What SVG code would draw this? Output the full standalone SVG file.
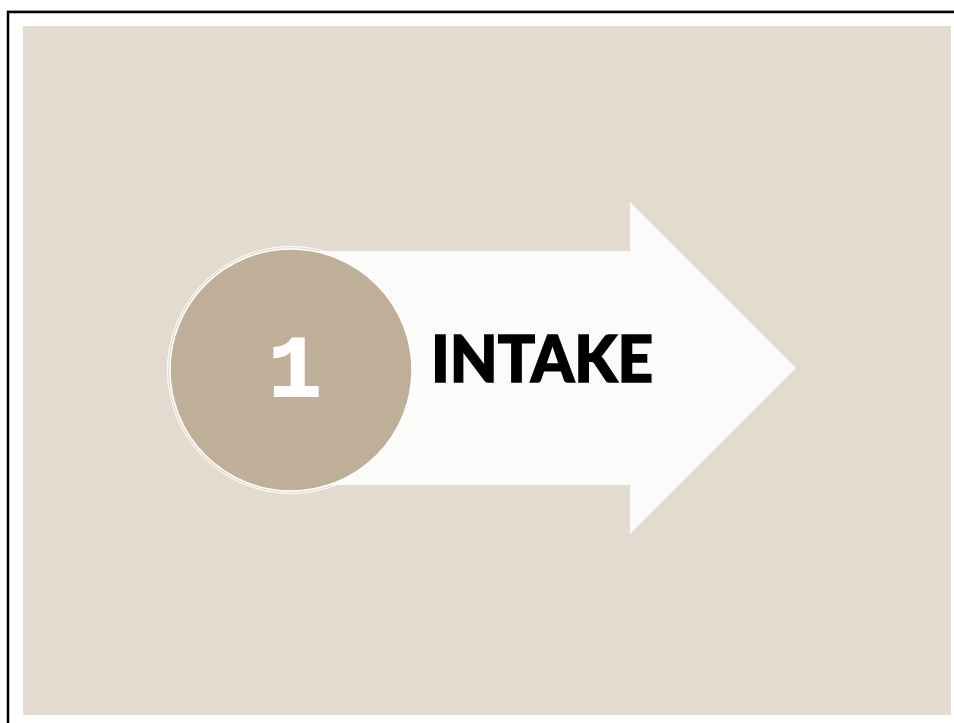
<svg xmlns="http://www.w3.org/2000/svg" width="954" height="723" viewBox="0 0 954 723">
<style>
.num{font-family:"Liberation Mono","DejaVu Sans Mono",monospace;font-weight:bold;fill:#ffffff;stroke:#ffffff;stroke-width:2}
.lbl{font-family:Lato,"Liberation Sans","DejaVu Sans",sans-serif;font-weight:900;fill:#000000;stroke:#000000;stroke-width:1.5}
</style>
<rect x="0" y="0" width="954" height="723" fill="#ffffff"/>
<rect x="8" y="12" width="960" height="730" fill="none" stroke="#000000" stroke-width="2.5"/>
<line x1="7" y1="10.5" x2="954" y2="10.5" stroke="#999999" stroke-width="1"/>
<rect x="23" y="26" width="928" height="689" fill="#e3dbcf"/>
<g id="arrow">
<polygon points="295,251 630,251 630,202 796,368 630,534 630,485 295,485" fill="#fbfbfa"/>
</g>
<g id="circle">
<circle cx="291" cy="370" r="123.5" fill="none" stroke="#ffffff" stroke-width="1"/>
<circle cx="291" cy="370" r="121" fill="#bfae98" stroke="#ffffff" stroke-width="1.5"/>
<text class="num" x="295" y="396" font-size="88" text-anchor="middle">1</text>
</g>
<g id="label">
<text class="lbl" x="431" y="382" font-size="65" textLength="222" lengthAdjust="spacingAndGlyphs">INTAKE</text>
</g>
</svg>
